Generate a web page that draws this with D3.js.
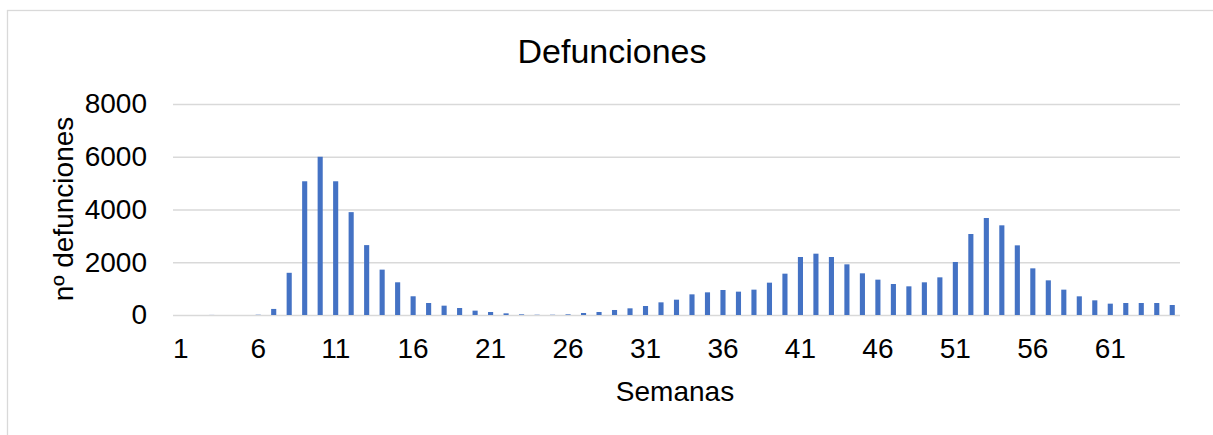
<!DOCTYPE html>
<html>

<head>
    <meta charset="utf-8">
    <style>
        body {
            margin: 0;
            background: #fff;
            font-family: Arial, 'Liberation Sans', sans-serif;
        }

        svg {
            display: block;
        }

        .y .tick line {
            stroke: #d9d9d9;
            stroke-width: 1.3px;
        }

        .x .domain,
        .y .domain,
        .x .tick line {
            display: none;
        }

        .tick text {
            font-size: 28px;
            fill: #000;
        }
    </style>
</head>

<body>
    <svg width="1213" height="435"></svg>
</body>

<script src="https://d3js.org/d3.v7.min.js"></script>

<script>
    // weeks 1..65
    let weeks = d3.range(1, 66)

    let deaths = [
        0, 0, 3, 0, 0, 10, 230, 1600, 5070, 6000,
        5070, 3900, 2650, 1720, 1240, 710, 455, 354, 265, 165,
        114, 63, 25, 10, 10, 25, 76, 114, 190, 253,
        341, 480, 581, 783, 859, 948, 885, 961, 1226, 1567,
        2199, 2325, 2199, 1921, 1580, 1340, 1175, 1087, 1239, 1428,
        2010, 3071, 3678, 3400, 2641, 1769, 1314, 961, 708, 556,
        430, 455, 455, 455, 379
    ]

    let yTicks = [0, 2000, 4000, 6000, 8000]
    let xTickLabels = [1, 6, 11, 16, 21, 26, 31, 36, 41, 46, 51, 56, 61]

    let data = weeks.map((w, i) => ({ week: w, value: deaths[i] }))

    let margin = { top: 104, right: 33, bottom: 120, left: 173 }
    let width = 1213
    let height = 435

    let svg = d3.select("svg")

    // chart frame (runs off the right and bottom edges)
    svg.append("rect")
        .attr("x", 7.5)
        .attr("y", 10.5)
        .attr("width", 1300)
        .attr("height", 500)
        .style("fill", "none")
        .style("stroke", "#d9d9d9")
        .style("stroke-width", "1.3px")

    let x = d3.scaleBand()
        .domain(weeks)
        .range([margin.left, width - margin.right])
        .paddingInner(0.67)
        .paddingOuter(0.335)

    let y = d3.scaleLinear()
        .domain([0, 8000])
        .range([315, margin.top])

    let yAxisSettings = d3.axisLeft(y)
        .tickValues(yTicks)
        .tickSize(-(width - margin.right - margin.left))
        .tickPadding(26)
        .tickFormat(d3.format("d"))

    let xAxisSettings = d3.axisBottom(x)
        .tickValues(xTickLabels)
        .tickSize(0)
        .tickPadding(23)

    svg.append("g")
        .attr("class", "y axis")
        .attr("transform", `translate(${margin.left},0)`)
        .call(yAxisSettings)

    svg.append("g")
        .attr("class", "x axis")
        .attr("transform", `translate(0,315)`)
        .call(xAxisSettings)

    svg.append("g")
        .selectAll("rect")
        .data(data)
        .join("rect")
        .attr("x", d => x(d.week))
        .attr("y", d => y(d.value))
        .attr("width", x.bandwidth())
        .attr("height", d => y(0) - y(d.value))
        .style("fill", "#4472C4")

    svg.append("text")
        .attr("x", 612)
        .attr("y", 63)
        .attr("text-anchor", "middle")
        .style("font-size", "34px")
        .text("Defunciones")

    svg.append("text")
        .attr("x", 675)
        .attr("y", 401)
        .attr("text-anchor", "middle")
        .style("font-size", "28px")
        .text("Semanas")

    svg.append("text")
        .attr("transform", "translate(73,209) rotate(-90)")
        .attr("text-anchor", "middle")
        .style("font-size", "28px")
        .text("nº defunciones")
</script>

</html>
